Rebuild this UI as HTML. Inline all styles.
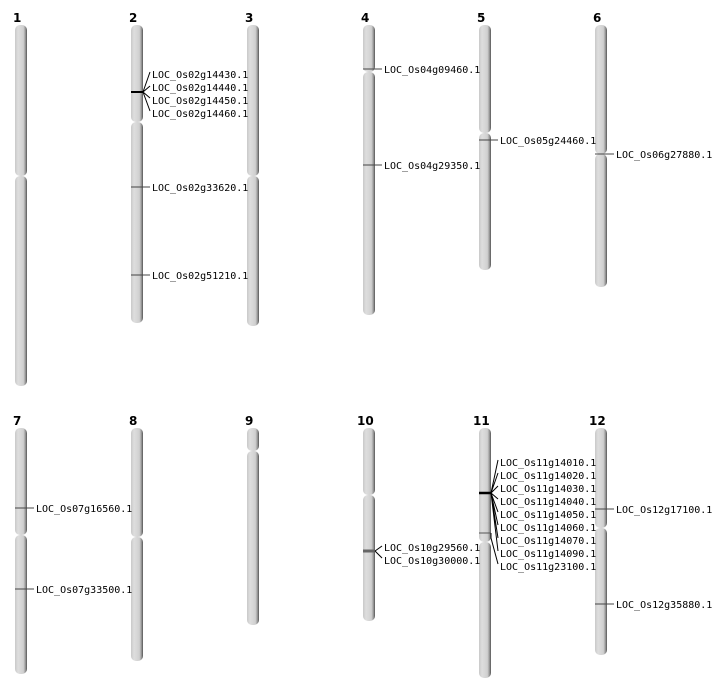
<!DOCTYPE html>
<html><head><meta charset="utf-8"><style>
html,body{margin:0;padding:0;background:#fff;width:712px;height:700px;overflow:hidden}
svg text{font-family:"DejaVu Sans Mono","Liberation Mono",monospace;font-size:10px;fill:#000}
svg text.n{font-family:"DejaVu Sans","Liberation Sans",sans-serif;font-weight:bold;font-size:12px}
</style></head><body>
<svg width="712" height="700" xmlns="http://www.w3.org/2000/svg">
<defs>
<linearGradient id="g" x1="0" x2="1" y1="0" y2="0">
<stop offset="0" stop-color="#c8c8c8"/><stop offset="0.25" stop-color="#dedede"/><stop offset="0.7" stop-color="#d0d0d0"/><stop offset="0.85" stop-color="#a0a0a0"/><stop offset="1" stop-color="#555"/>
</linearGradient>
</defs>
<g fill="url(#g)">
<!-- row 1 -->
<rect x="15" y="25" width="12" height="151" rx="5"/><rect x="15" y="176" width="12" height="210" rx="5"/>
<rect x="131" y="25" width="12" height="97" rx="5"/><rect x="131" y="122" width="12" height="201" rx="5"/>
<rect x="247" y="25" width="12" height="151" rx="5"/><rect x="247" y="176" width="12" height="150" rx="5"/>
<rect x="363" y="25" width="12" height="47" rx="5"/><rect x="363" y="72" width="12" height="243" rx="5"/>
<rect x="479" y="25" width="12" height="108" rx="5"/><rect x="479" y="133" width="12" height="137" rx="5"/>
<rect x="595" y="25" width="12" height="129" rx="5"/><rect x="595" y="154" width="12" height="133" rx="5"/>
<!-- row 2 -->
<rect x="15" y="428" width="12" height="107" rx="5"/><rect x="15" y="535" width="12" height="139" rx="5"/>
<rect x="131" y="428" width="12" height="109" rx="5"/><rect x="131" y="537" width="12" height="124" rx="5"/>
<rect x="247" y="428" width="12" height="23" rx="5"/><rect x="247" y="451" width="12" height="174" rx="5"/>
<rect x="363" y="428" width="12" height="67" rx="5"/><rect x="363" y="495" width="12" height="126" rx="5"/>
<rect x="479" y="428" width="12" height="114" rx="5"/><rect x="479" y="542" width="12" height="136" rx="5"/>
<rect x="595" y="428" width="12" height="100" rx="5"/><rect x="595" y="528" width="12" height="127" rx="5"/>
</g>
<g>
<text class="n" x="13" y="22">1</text><text class="n" x="129" y="22">2</text><text class="n" x="245" y="22">3</text>
<text class="n" x="361" y="22">4</text><text class="n" x="477" y="22">5</text><text class="n" x="593" y="22">6</text>
<text class="n" x="13" y="425">7</text><text class="n" x="129" y="425">8</text><text class="n" x="245" y="425">9</text>
<text class="n" x="357" y="425">10</text><text class="n" x="473" y="425">11</text><text class="n" x="589" y="425">12</text>
</g>
<g stroke="#000" stroke-width="1" fill="none">
<!-- chr2 -->
<line x1="131" y1="92" x2="143" y2="92" stroke-width="2"/>
<path d="M143 92L150 72M143 92L150 86M143 92L150 98M143 92L150 111"/>
<line x1="131" y1="187" x2="150" y2="187" stroke="#444"/>
<line x1="131" y1="275" x2="150" y2="275" stroke="#444"/>
<line x1="363" y1="69" x2="382" y2="69" stroke="#444"/>
<line x1="363" y1="165" x2="382" y2="165" stroke="#444"/>
<line x1="479" y1="140" x2="498" y2="140" stroke="#444"/>
<line x1="595" y1="154" x2="614" y2="154" stroke="#444"/>
<line x1="15" y1="508" x2="34" y2="508" stroke="#444"/>
<line x1="15" y1="589" x2="34" y2="589" stroke="#444"/>
<line x1="363" y1="551" x2="375" y2="551" stroke="#666" stroke-width="3"/>
<path d="M375 551L382 546M375 551L382 558"/>
<line x1="479" y1="493" x2="491" y2="493" stroke-width="2.5"/>
<path d="M491 493L498 460M491 493L498 473M491 493L498 486M491 493L498 499M491 493L498 512M491 493L498 525M491 493L498 538M491 493L498 551"/>
<line x1="479" y1="533" x2="491" y2="533" stroke="#555"/>
<path d="M491 533L491 538L498 564"/>
<line x1="595" y1="509" x2="614" y2="509" stroke="#444"/>
<line x1="595" y1="604" x2="614" y2="604" stroke="#444"/>
</g>
<g>
<text x="152" y="78">LOC_Os02g14430.1</text><text x="152" y="91">LOC_Os02g14440.1</text>
<text x="152" y="104">LOC_Os02g14450.1</text><text x="152" y="117">LOC_Os02g14460.1</text>
<text x="152" y="191">LOC_Os02g33620.1</text><text x="152" y="279">LOC_Os02g51210.1</text>
<text x="384" y="73">LOC_Os04g09460.1</text><text x="384" y="169">LOC_Os04g29350.1</text>
<text x="500" y="144">LOC_Os05g24460.1</text><text x="616" y="158">LOC_Os06g27880.1</text>
<text x="36" y="512">LOC_Os07g16560.1</text><text x="36" y="593">LOC_Os07g33500.1</text>
<text x="384" y="551">LOC_Os10g29560.1</text><text x="384" y="564">LOC_Os10g30000.1</text>
<text x="500" y="466">LOC_Os11g14010.1</text><text x="500" y="479">LOC_Os11g14020.1</text>
<text x="500" y="492">LOC_Os11g14030.1</text><text x="500" y="505">LOC_Os11g14040.1</text>
<text x="500" y="518">LOC_Os11g14050.1</text><text x="500" y="531">LOC_Os11g14060.1</text>
<text x="500" y="544">LOC_Os11g14070.1</text><text x="500" y="557">LOC_Os11g14090.1</text>
<text x="500" y="570">LOC_Os11g23100.1</text>
<text x="616" y="513">LOC_Os12g17100.1</text><text x="616" y="608">LOC_Os12g35880.1</text>
</g>
</svg>
</body></html>
